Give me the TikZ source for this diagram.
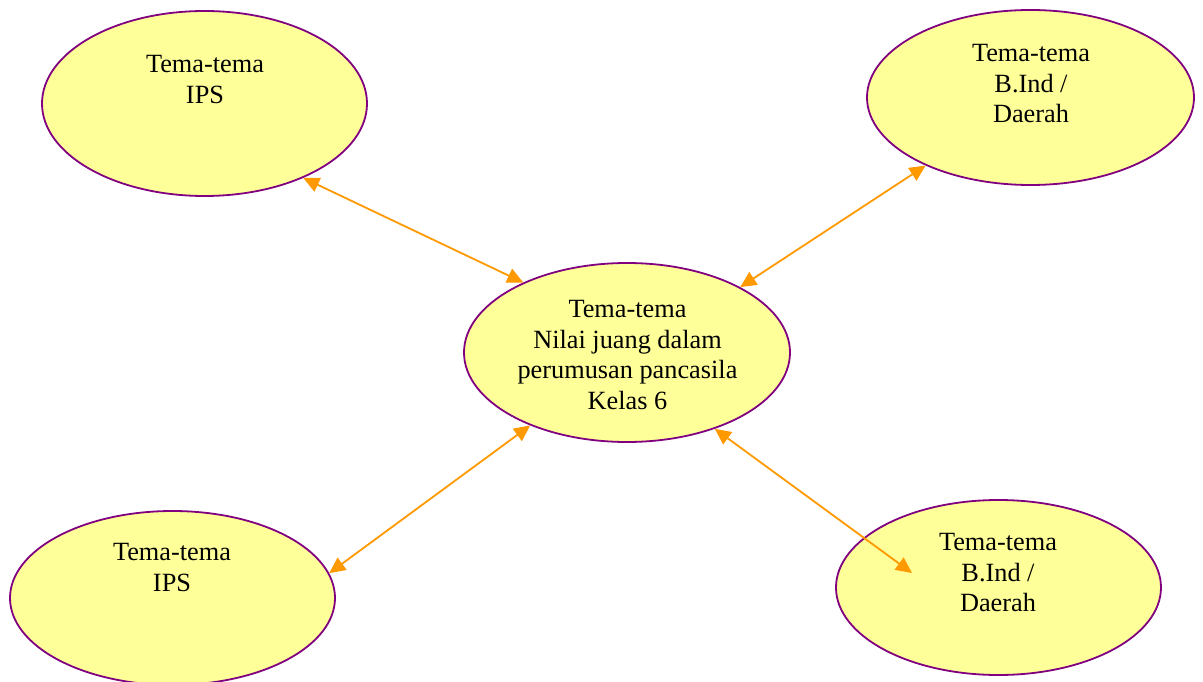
\documentclass[tikz,border=0pt]{standalone}
\usepackage{fontspec}
\setmainfont{Liberation Serif}
\usetikzlibrary{arrows.meta,shapes.geometric}

\definecolor{bubblefill}{HTML}{FFFF99}
\definecolor{bubbleline}{HTML}{800080}
\definecolor{linkline}{HTML}{FF9900}

\tikzset{
  bubble/.style={ellipse, draw=bubbleline, fill=bubblefill, line width=1.8pt, inner sep=0pt},
  label text/.style={anchor=north, align=center, inner sep=0pt,
    font=\fontsize{26.3}{30.5}\selectfont},
  link/.style={draw=linkline, line width=1.8pt,
    {Triangle[length=16pt,width=15pt]}-{Triangle[length=16pt,width=15pt]}}
}

\begin{document}
\begin{tikzpicture}[x=1pt,y=-1pt]
  \useasboundingbox (0,0) rectangle (1203,682);
  \fill[white] (0,0) rectangle (1203,682);

  % the five theme bubbles
  \node[bubble, minimum width=325pt, minimum height=185pt] (tl)  at (204.5,103.5) {};
  \node[bubble, minimum width=327pt, minimum height=175pt] (tr)  at (1030.5,97.5) {};
  \node[bubble, minimum width=326pt, minimum height=179pt] (ctr) at (627,352.5) {};
  \node[bubble, minimum width=325pt, minimum height=174pt] (bl)  at (172.5,598) {};
  \node[bubble, minimum width=325pt, minimum height=175pt] (br)  at (998.5,587.5) {};

  % free end of the lower right link, inside its bubble
  \coordinate (brEnd) at (912,573);

  % links between the centre and the outer themes
  \draw[link] (tl.-37.6) -- (ctr.146.7);
  \draw[link] (tr.213.4) -- (ctr.30.9);
  \draw[link] (ctr.217.2) -- (bl.9);
  \draw[link] (ctr.-41.1) -- (brEnd);

  % bubble texts
  \node[label text] (tlText)  at (205,51)   {\strut Tema-tema\\\strut IPS};
  \node[label text] (trText)  at (1031,40)  {\strut Tema-tema\\\strut B.Ind /\\\strut Daerah};
  \node[label text] (ctrText) at (627.5,296) {\strut Tema-tema\\\strut Nilai juang dalam\\\strut perumusan pancasila\\\strut Kelas 6};
  \node[label text] (blText)  at (172,539)  {\strut Tema-tema\\\strut IPS};
  \node[label text] (brText)  at (998,529)  {\strut Tema-tema\\\strut B.Ind /\\\strut Daerah};
\end{tikzpicture}
\end{document}
